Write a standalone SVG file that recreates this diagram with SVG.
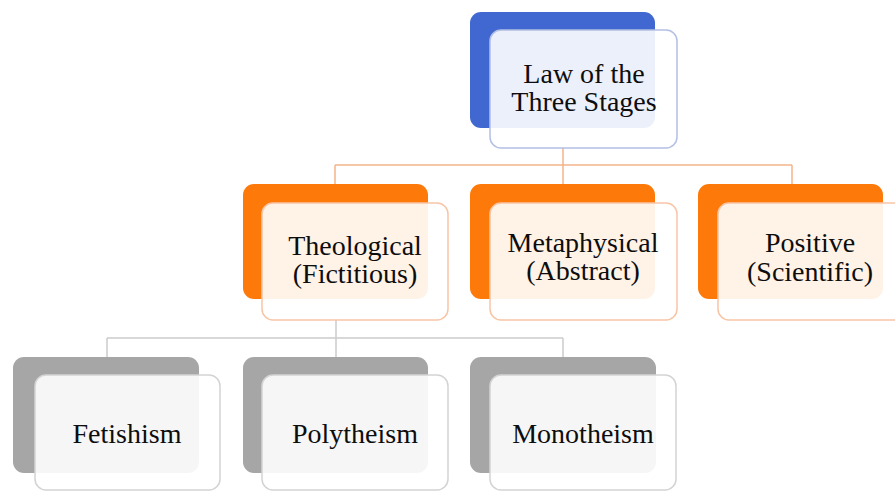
<svg xmlns="http://www.w3.org/2000/svg" width="895" height="491" viewBox="0 0 895 491">
<style>
.t{font-family:"Liberation Serif","Times New Roman",serif;font-size:28px;fill:#0d0d0d;text-anchor:middle}
.bb{fill:#4068d0}
.bf{fill:#ffffff;fill-opacity:0.9;stroke:#b3bfe4;stroke-width:1.5}
.ob{fill:#fd7a0a}
.of{fill:#ffffff;fill-opacity:0.9;stroke:#f7c5a6;stroke-width:1.5}
.gb{fill:#a6a6a6}
.gf{fill:#ffffff;fill-opacity:0.9;stroke:#d3d3d3;stroke-width:1.5}
.co{fill:none;stroke:#f4b489;stroke-width:1.5}
.cg{fill:none;stroke:#cccccc;stroke-width:1.5}
</style>
<rect width="895" height="491" fill="#ffffff"/>
<g id="connectors">
<path class="co" d="M563 148V165M335 165H792M335 165V184M563 165V184M792 165V184"/>
<path class="cg" d="M336 320V338M107 338H563M107 338V357M336 338V357M563 338V357"/>
</g>
<g id="law">
<rect class="bb" x="470" y="12" width="185" height="116" rx="11"/>
<rect class="bf" x="490" y="30" width="187" height="118" rx="11"/>
<text class="t" x="584" y="83">Law of the</text>
<text class="t" x="584" y="111">Three Stages</text>
</g>
<g id="theological">
<rect class="ob" x="243" y="184" width="185" height="115" rx="11"/>
<rect class="of" x="262" y="203" width="186" height="117" rx="11"/>
<text class="t" x="355" y="255">Theological</text>
<text class="t" x="355" y="283">(Fictitious)</text>
</g>
<g id="metaphysical">
<rect class="ob" x="470" y="184" width="185" height="115" rx="11"/>
<rect class="of" x="490" y="203" width="187" height="117" rx="11"/>
<text class="t" x="583" y="252">Metaphysical</text>
<text class="t" x="583" y="280">(Abstract)</text>
</g>
<g id="positive">
<rect class="ob" x="698" y="184" width="185" height="115" rx="11"/>
<rect class="of" x="718" y="203" width="187" height="117" rx="11"/>
<text class="t" x="810" y="252">Positive</text>
<text class="t" x="810" y="281">(Scientific)</text>
</g>
<g id="fetishism">
<rect class="gb" x="13" y="357" width="186" height="116" rx="11"/>
<rect class="gf" x="35" y="375" width="185" height="115" rx="11"/>
<text class="t" x="127" y="443">Fetishism</text>
</g>
<g id="polytheism">
<rect class="gb" x="243" y="357" width="185" height="116" rx="11"/>
<rect class="gf" x="262" y="375" width="186" height="115" rx="11"/>
<text class="t" x="355" y="443">Polytheism</text>
</g>
<g id="monotheism">
<rect class="gb" x="470" y="357" width="186" height="116" rx="11"/>
<rect class="gf" x="490" y="375" width="186" height="115" rx="11"/>
<text class="t" x="583" y="443">Monotheism</text>
</g>
</svg>
